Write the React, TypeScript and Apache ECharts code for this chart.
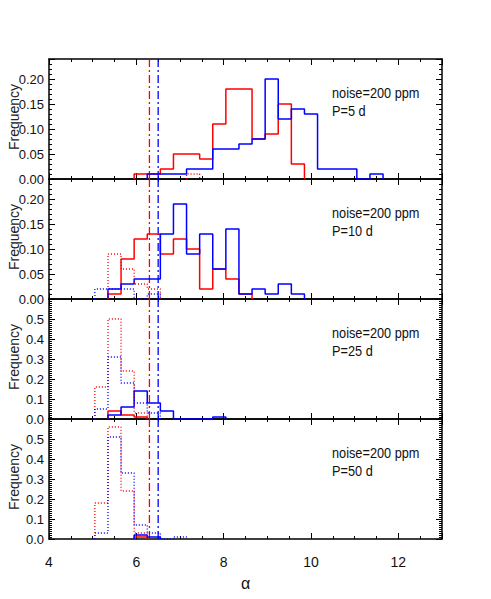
import { useEffect, useRef } from "react";
import * as echarts from "echarts";

// Histogram bin edges (alpha)
const binEdges = [5.05, 5.35, 5.65, 5.95, 6.25, 6.55, 6.85, 7.15, 7.45, 7.75, 8.05, 8.35, 8.65, 8.95, 9.25, 9.55, 9.85, 10.15, 10.45, 10.75, 11.05, 11.35, 11.65];

// P = 5 d
const p5RedSolid = [0, 0, 0, 0.01, 0.01, 0.02, 0.05, 0.05, 0.04, 0.11, 0.18, 0.18, 0.08, 0.09, 0.15, 0.03, 0, 0, 0, 0, 0, 0];
const p5BlueSolid = [0, 0, 0, 0, 0.01, 0.01, 0.01, 0.02, 0.02, 0.06, 0.06, 0.07, 0.08, 0.2, 0.12, 0.14, 0.13, 0.02, 0.02, 0.02, 0, 0.01];
const p5RedDotted = [0, 0, 0, 0, 0, 0, 0, 0.01, 0, 0, 0, 0, 0, 0, 0, 0, 0, 0, 0, 0, 0, 0];
const p5BlueDotted = [0, 0, 0, 0, 0, 0, 0, 0, 0, 0, 0, 0, 0, 0, 0, 0, 0, 0, 0, 0, 0, 0];

// P = 10 d
const p10RedSolid = [0, 0.01, 0.08, 0.12, 0.13, 0.09, 0.12, 0.1, 0.02, 0.06, 0.04, 0.01, 0, 0, 0, 0, 0, 0, 0, 0, 0, 0];
const p10BlueSolid = [0, 0.02, 0.03, 0.04, 0.04, 0.13, 0.19, 0.09, 0.13, 0.06, 0.14, 0.01, 0.02, 0.01, 0.03, 0.01, 0, 0, 0, 0, 0, 0];
const p10RedDotted = [0, 0.09, 0.06, 0.03, 0.02, 0, 0, 0, 0, 0, 0, 0, 0, 0, 0, 0, 0, 0, 0, 0, 0, 0];
const p10BlueDotted = [0.02, 0.02, 0.02, 0, 0.01, 0, 0, 0, 0, 0, 0, 0, 0, 0, 0, 0, 0, 0, 0, 0, 0, 0];

// P = 25 d
const p25RedSolid = [0, 0.04, 0.02, 0.01, 0, 0, 0, 0, 0, 0, 0, 0, 0, 0, 0, 0, 0, 0, 0, 0, 0, 0];
const p25BlueSolid = [0, 0.02, 0.06, 0.14, 0.08, 0.04, 0, 0, 0, 0.01, 0, 0, 0, 0, 0, 0, 0, 0, 0, 0, 0, 0];
const p25RedDotted = [0.16, 0.5, 0.24, 0.03, 0, 0, 0, 0, 0, 0, 0, 0, 0, 0, 0, 0, 0, 0, 0, 0, 0, 0];
const p25BlueDotted = [0.05, 0.31, 0.18, 0.08, 0.03, 0, 0, 0, 0, 0, 0, 0, 0, 0, 0, 0, 0, 0, 0, 0, 0, 0];

// P = 50 d
const p50RedSolid = [0, 0, 0, 0.01, 0, 0, 0, 0, 0, 0, 0, 0, 0, 0, 0, 0, 0, 0, 0, 0, 0, 0];
const p50BlueSolid = [0, 0, 0, 0.02, 0.01, 0, 0, 0, 0, 0, 0, 0, 0, 0, 0, 0, 0, 0, 0, 0, 0, 0];
const p50RedDotted = [0.18, 0.56, 0.24, 0.03, 0, 0, 0, 0, 0, 0, 0, 0, 0, 0, 0, 0, 0, 0, 0, 0, 0, 0];
const p50BlueDotted = [0.03, 0.51, 0.33, 0.07, 0.03, 0, 0.01, 0, 0, 0, 0, 0, 0, 0, 0, 0, 0, 0, 0, 0, 0, 0];

const redRefAlpha = 6.3;
const blueRefAlpha = 6.5;

const panelLabels = ["P=5 d", "P=10 d", "P=25 d", "P=50 d"];
const noiseLabel = "noise=200 ppm";
const yTitle = "Frequency";
const xTitle = "α";
const yMaxes = [0.24, 0.24, 0.6, 0.6];
const yIntervals = [0.05, 0.05, 0.1, 0.1];
const yDecimals = [2, 2, 1, 1];
const xTicksMin = 4;
const xTicksMax = 13;
const xTickInterval = 2;

const panels = [
  { red: p5RedSolid, blue: p5BlueSolid, redDot: p5RedDotted, blueDot: p5BlueDotted },
  { red: p10RedSolid, blue: p10BlueSolid, redDot: p10RedDotted, blueDot: p10BlueDotted },
  { red: p25RedSolid, blue: p25BlueSolid, redDot: p25RedDotted, blueDot: p25BlueDotted },
  { red: p50RedSolid, blue: p50BlueSolid, redDot: p50RedDotted, blueDot: p50BlueDotted },
];

function steps(vals: number[]) {
  const first = vals.findIndex((v) => v > 0);
  if (first < 0) return [];
  let last = first;
  vals.forEach((v, i) => {
    if (v > 0) last = i;
  });
  const pts: number[][] = [[binEdges[first], 0]];
  for (let i = first; i <= last; i++) {
    pts.push([binEdges[i], vals[i]]);
    pts.push([binEdges[i + 1], vals[i]]);
  }
  pts.push([binEdges[last + 1], 0]);
  return pts;
}

const FONT = "'Liberation Sans', Arial, sans-serif";
const RED = "#ff0000";
const BLUE = "#0000ff";

export default function App() {
  const ref = useRef<HTMLDivElement>(null);
  useEffect(() => {
    if (!ref.current) return;
    const chart = echarts.init(ref.current, null, { renderer: "svg" });
    const gridTop = 59;
    const gridH = 120;
    const grids = [0, 1, 2, 3].map((i) => ({
      left: 49,
      width: 393,
      top: gridTop + i * gridH,
      height: gridH,
      containLabel: false,
      outerBoundsMode: "none",
    }));
    const xAxes: any[] = [];
    const yAxes: any[] = [];
    grids.forEach((_, g) => {
      const isBottom = g === 3;
      ["bottom", "top"].forEach((pos) => {
        xAxes.push({
          type: "value",
          gridIndex: g,
          position: pos,
          min: xTicksMin,
          max: xTicksMax,
          interval: xTickInterval,
          axisLine: { show: true, onZero: false, lineStyle: { color: "#000", width: 1.5 } },
          axisTick: { show: true, inside: true, length: 6, lineStyle: { color: "#000", width: 1 } },
          minorTick: { show: true, splitNumber: 4, length: 3, lineStyle: { color: "#000", width: 1 } },
          splitLine: { show: false },
          axisLabel: {
            show: isBottom && pos === "bottom",
            showMaxLabel: false,
            fontSize: 14,
            margin: 16,
            color: "#111",
            fontFamily: FONT,
          },
          name: isBottom && pos === "bottom" ? xTitle : "",
          nameLocation: "middle",
          nameGap: 36,
          nameTextStyle: { fontSize: 16, color: "#111", fontFamily: FONT },
        });
      });
      ["left", "right"].forEach((pos) => {
        yAxes.push({
          type: "value",
          gridIndex: g,
          position: pos,
          min: 0,
          max: yMaxes[g],
          interval: yIntervals[g],
          axisLine: { show: true, onZero: false, lineStyle: { color: "#000", width: 1.5 } },
          axisTick: { show: true, inside: true, length: 6, lineStyle: { color: "#000", width: 1 } },
          minorTick: {
            show: true,
            splitNumber: g < 2 ? 5 : 10,
            length: 3,
            lineStyle: { color: "#000", width: 1 },
          },
          splitLine: { show: false },
          axisLabel: {
            show: pos === "left",
            showMaxLabel: false,
            fontSize: 13,
            margin: 5,
            color: "#111",
            fontFamily: FONT,
            formatter: (v: number) => v.toFixed(yDecimals[g]),
          },
        });
      });
    });

    const series: any[] = [];
    panels.forEach((p, g) => {
      const base = {
        type: "line",
        xAxisIndex: 2 * g,
        yAxisIndex: 2 * g,
        symbol: "none",
        showSymbol: false,
        silent: true,
        z: 3,
      };
      series.push({
        ...base,
        z: 2,
        color: RED,
        data: [
          [redRefAlpha, 0],
          [redRefAlpha, yMaxes[g]],
        ],
        lineStyle: { color: RED, width: 1.3, type: [8, 3, 2, 3] },
      });
      series.push({
        ...base,
        z: 2,
        color: BLUE,
        data: [
          [blueRefAlpha, 0],
          [blueRefAlpha, yMaxes[g]],
        ],
        lineStyle: { color: BLUE, width: 1.3, type: [8, 3, 2, 3] },
      });
      series.push({ ...base, color: RED, data: steps(p.red), lineStyle: { color: RED, width: 1.5 } });
      series.push({ ...base, color: BLUE, data: steps(p.blue), lineStyle: { color: BLUE, width: 1.5 } });
      series.push({ ...base, color: RED, data: steps(p.redDot), lineStyle: { color: RED, width: 1.3, type: [1, 2] } });
      series.push({ ...base, color: BLUE, data: steps(p.blueDot), lineStyle: { color: BLUE, width: 1.3, type: [1, 2] } });
    });

    const graphic: any[] = [];
    grids.forEach((gr, g) => {
      graphic.push({
        type: "text",
        x: 332,
        y: gr.top + 34,
        scaleX: 0.85,
        style: { text: noiseLabel, fontSize: 15, fill: "#111", fontFamily: FONT, verticalAlign: "middle" },
      });
      graphic.push({
        type: "text",
        x: 332,
        y: gr.top + 52,
        scaleX: 0.85,
        style: { text: panelLabels[g], fontSize: 15, fill: "#111", fontFamily: FONT, verticalAlign: "middle" },
      });
      graphic.push({
        type: "text",
        x: 14,
        y: gr.top + 58,
        rotation: Math.PI / 2,
        style: {
          text: yTitle,
          fontSize: 14,
          fill: "#222",
          fontFamily: FONT,
          align: "center",
          verticalAlign: "middle",
        },
      });
    });

    chart.setOption({
      animation: false,
      textStyle: { fontFamily: FONT },
      grid: grids,
      xAxis: xAxes,
      yAxis: yAxes,
      series,
      graphic,
    });
    return () => chart.dispose();
  }, []);
  return (
    <div
      ref={ref}
      style={{ position: "fixed", left: 0, top: 0, width: 491, height: 599, background: "#fff" }}
    />
  );
}
